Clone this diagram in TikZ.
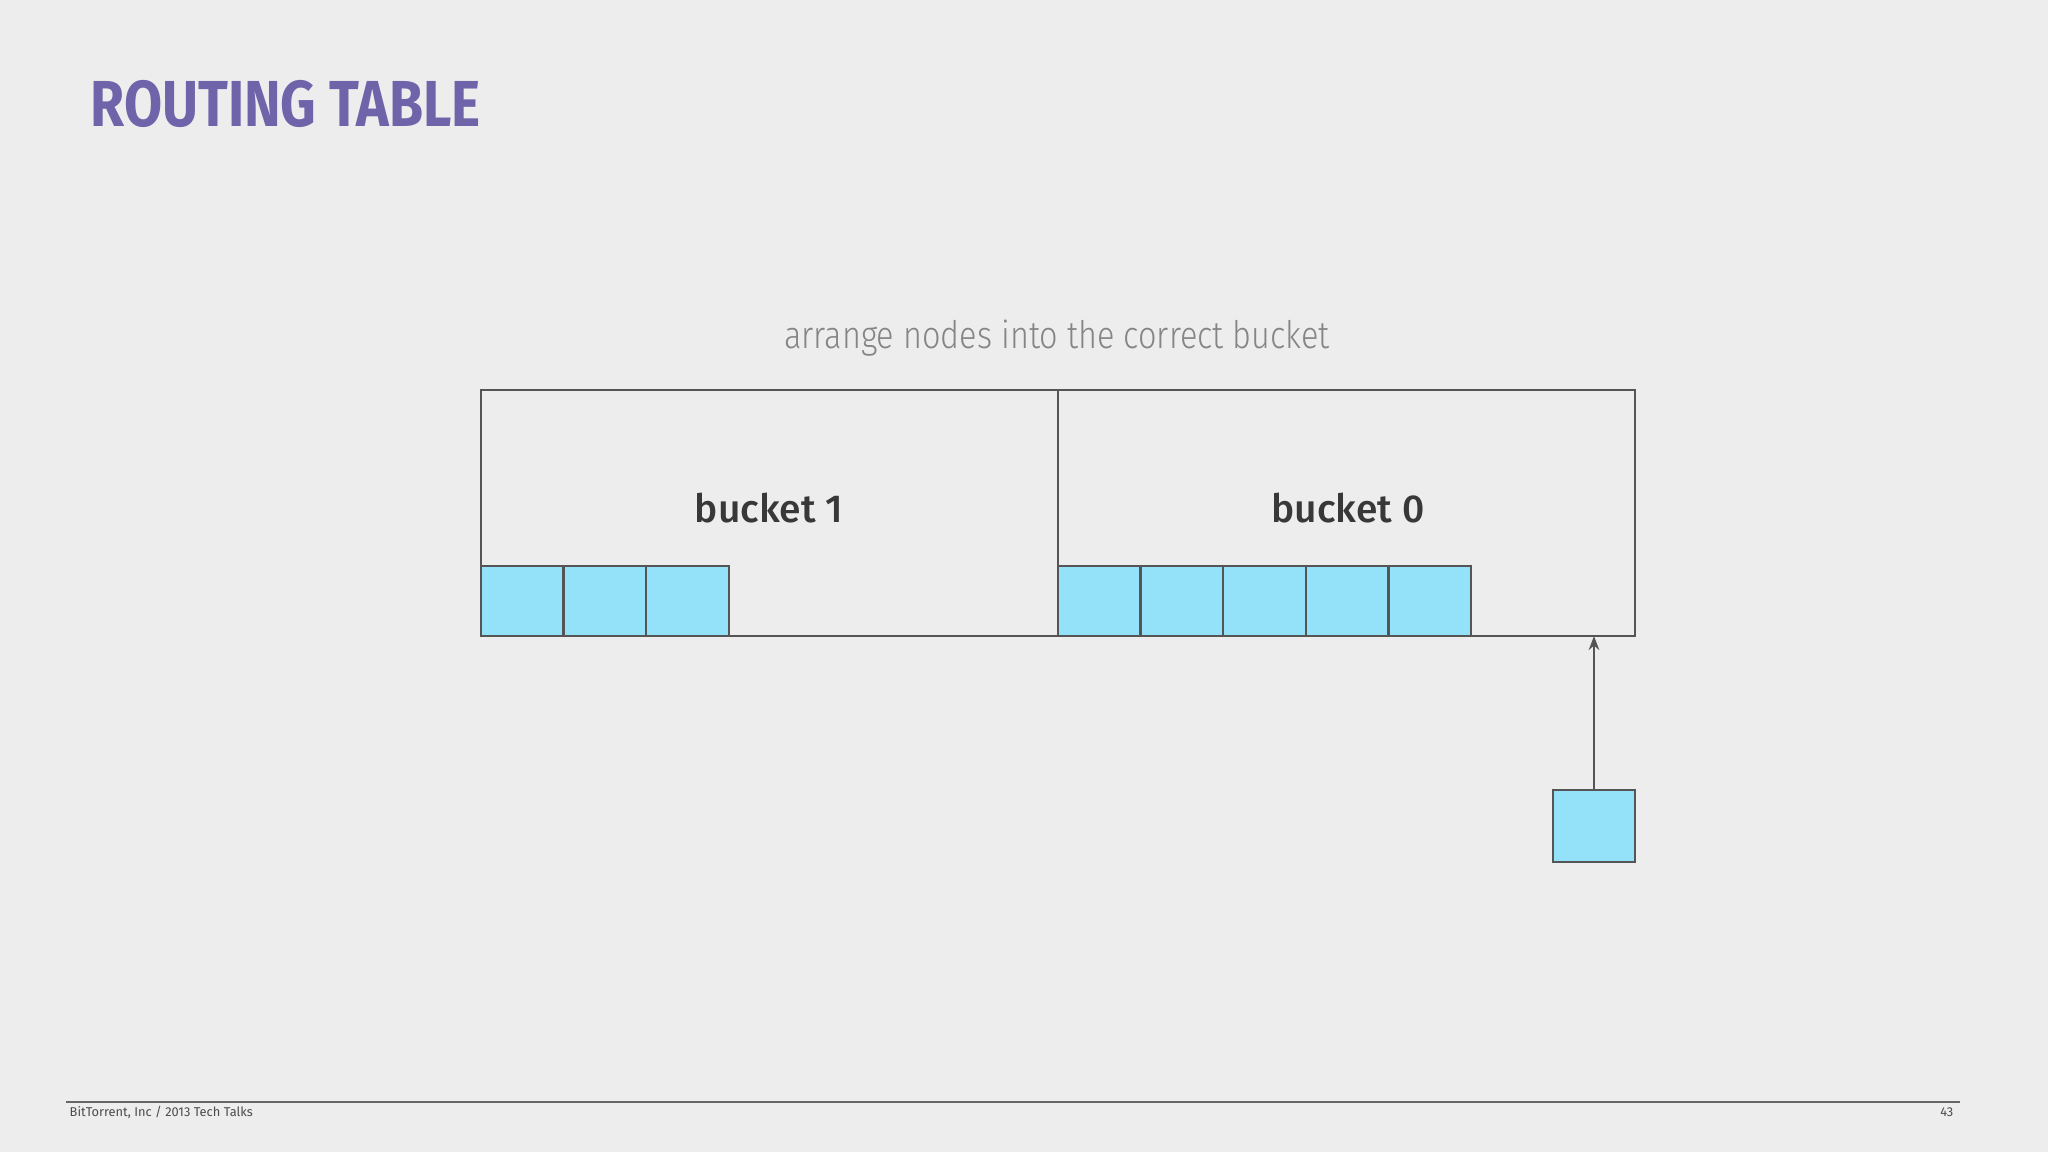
\documentclass[tikz,border=0pt]{standalone}
\usepackage{fontspec}
\setmainfont{Fira Sans}
\newfontfamily\thinfont{Fira Sans}[UprightFont=* Light]
\newfontfamily\mediumfont{Fira Sans}[UprightFont=* Medium]
\usetikzlibrary{positioning,arrows.meta}
\definecolor{paper}{HTML}{EEEDEE}
\definecolor{titlepurple}{HTML}{6F64A9}
\definecolor{cellblue}{HTML}{93E2FA}
\definecolor{edgegray}{HTML}{555555}
\tikzstyle{cell} = [rectangle, draw=edgegray, fill=cellblue, line width=0.7pt, minimum width=0.826cm, minimum height=0.70cm, inner sep=0pt, outer sep=0pt]
\tikzstyle{bucketlabel} = [font=\fontsize{11.1}{13}\selectfont\mediumfont, text=black!78]
\tikzstyle{footnote} = [font=\fontsize{3.65}{4}\selectfont, text=black!70, inner sep=0pt]
\tikzstyle{arrow} = [line width=0.6pt, draw=edgegray, -{Stealth[length=4pt,width=3pt]}]

\begin{document}
\begin{tikzpicture}

            % Page
            \fill [paper] (0,0) rectangle (20.48,11.52);
            \useasboundingbox (0,0) rectangle (20.48,11.52);

            % Nodes
            \node (title) [anchor=base west, inner sep=0pt, text=titlepurple, font=\fontsize{18.5}{20}\selectfont\bfseries] at (0.90,10.25) {\scalebox{0.85}[1]{ROUTING TABLE}};
            \node (caption) [anchor=base, inner sep=0pt, text=black!48, font=\fontsize{10.8}{12}\selectfont\thinfont] at (10.57,8.03) {\scalebox{0.855}[1]{arrange nodes into the correct bucket}};

            \node (table) [draw=edgegray, line width=0.6pt, minimum width=11.54cm, minimum height=2.46cm, anchor=north west, inner sep=0pt, outer sep=0pt] at (4.81,7.62) {};
            \coordinate (split) at (10.58,7.62);

            \node (bucketone) [bucketlabel] at (7.69,6.44) {bucket 1};
            \node (bucketzero) [bucketlabel] at (13.48,6.44) {bucket 0};

            \node (b1c1) [cell, anchor=south west] at (table.south west) {};
            \node (b1c2) [cell, right=0pt of b1c1] {};
            \node (b1c3) [cell, right=0pt of b1c2] {};

            \node (b0c1) [cell, anchor=south west] at (split |- table.south) {};
            \node (b0c2) [cell, right=0pt of b0c1] {};
            \node (b0c3) [cell, right=0pt of b0c2] {};
            \node (b0c4) [cell, right=0pt of b0c3] {};
            \node (b0c5) [cell, right=0pt of b0c4] {};

            \node (newnode) [cell, minimum width=0.82cm, minimum height=0.72cm] at (15.94,3.26) {};

            % Footer
            \coordinate (footleft) at (0.66,0.50);
            \coordinate (footright) at (19.60,0.50);
            \node (credit) [footnote, anchor=base west] at (0.69,0.35) {BitTorrent, Inc / 2013 Tech Talks};
            \node (pagenum) [footnote, anchor=base east] at (19.54,0.35) {43};

            % Lines
            \draw [edgegray, line width=0.6pt] (split) -- (split |- table.south);
            \draw [arrow] (newnode) -- (newnode |- table.south);
            \draw [black!60, line width=0.45pt] (footleft) -- (footright);
        \end{tikzpicture}
\end{document}
